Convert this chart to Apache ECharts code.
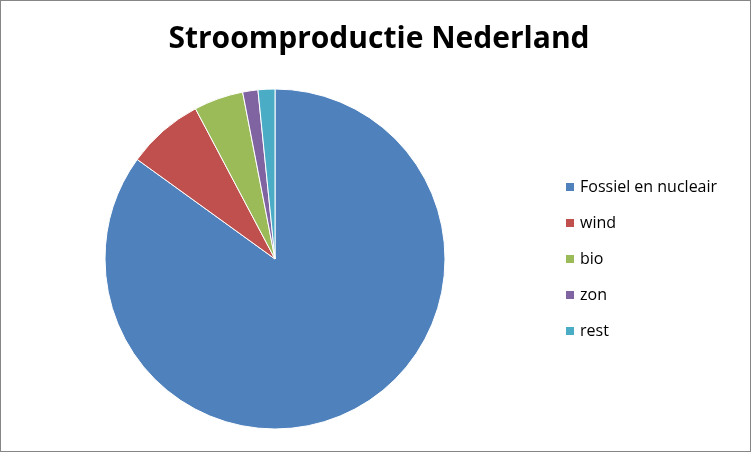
<!DOCTYPE html>
<html>
<head>
<meta charset="UTF-8">
<script src="https://cdn.jsdelivr.net/npm/echarts/dist/echarts.min.js"></script>
<style>
  html, body { margin: 0; padding: 0; background: #fff; }
  #chart { width: 749px; height: 450px; border: 1px solid #868686; }
</style>
</head>
<body>
<div id="chart"></div>
<script>
  // waarden (procent)
  const categories = ['Fossiel en nucleair', 'wind', 'bio', 'zon', 'rest'];
  const values = [85.0, 7.3, 4.7, 1.45, 1.6];
  const colors = ['#4F81BD', '#C0504D', '#9BBB59', '#8064A2', '#4BACC6'];

  const chart = echarts.init(document.getElementById('chart'));
  chart.setOption({
    animation: false,
    title: {
      text: 'Stroomproductie Nederland',
      left: 373, top: 18, textAlign: 'center',
      textStyle: { fontFamily: 'Open Sans', fontWeight: 'bold', fontSize: 30, color: '#000' }
    },
    legend: {
      orient: 'vertical', left: 558, top: 173,
      itemWidth: 10, itemHeight: 10, itemGap: 20,
      icon: 'rect',
      textStyle: { fontFamily: 'Open Sans', fontSize: 16, color: '#000' },
      data: categories
    },
    series: [{
      type: 'pie',
      center: [274, 258],
      radius: 170,
      startAngle: 90,
      clockwise: true,
      label: { show: false },
      labelLine: { show: false },
      itemStyle: { borderColor: '#fff', borderWidth: 1 },
      data: categories.map((c, i) => ({ name: c, value: values[i], itemStyle: { color: colors[i] } }))
    }]
  });
</script>
</body>
</html>
